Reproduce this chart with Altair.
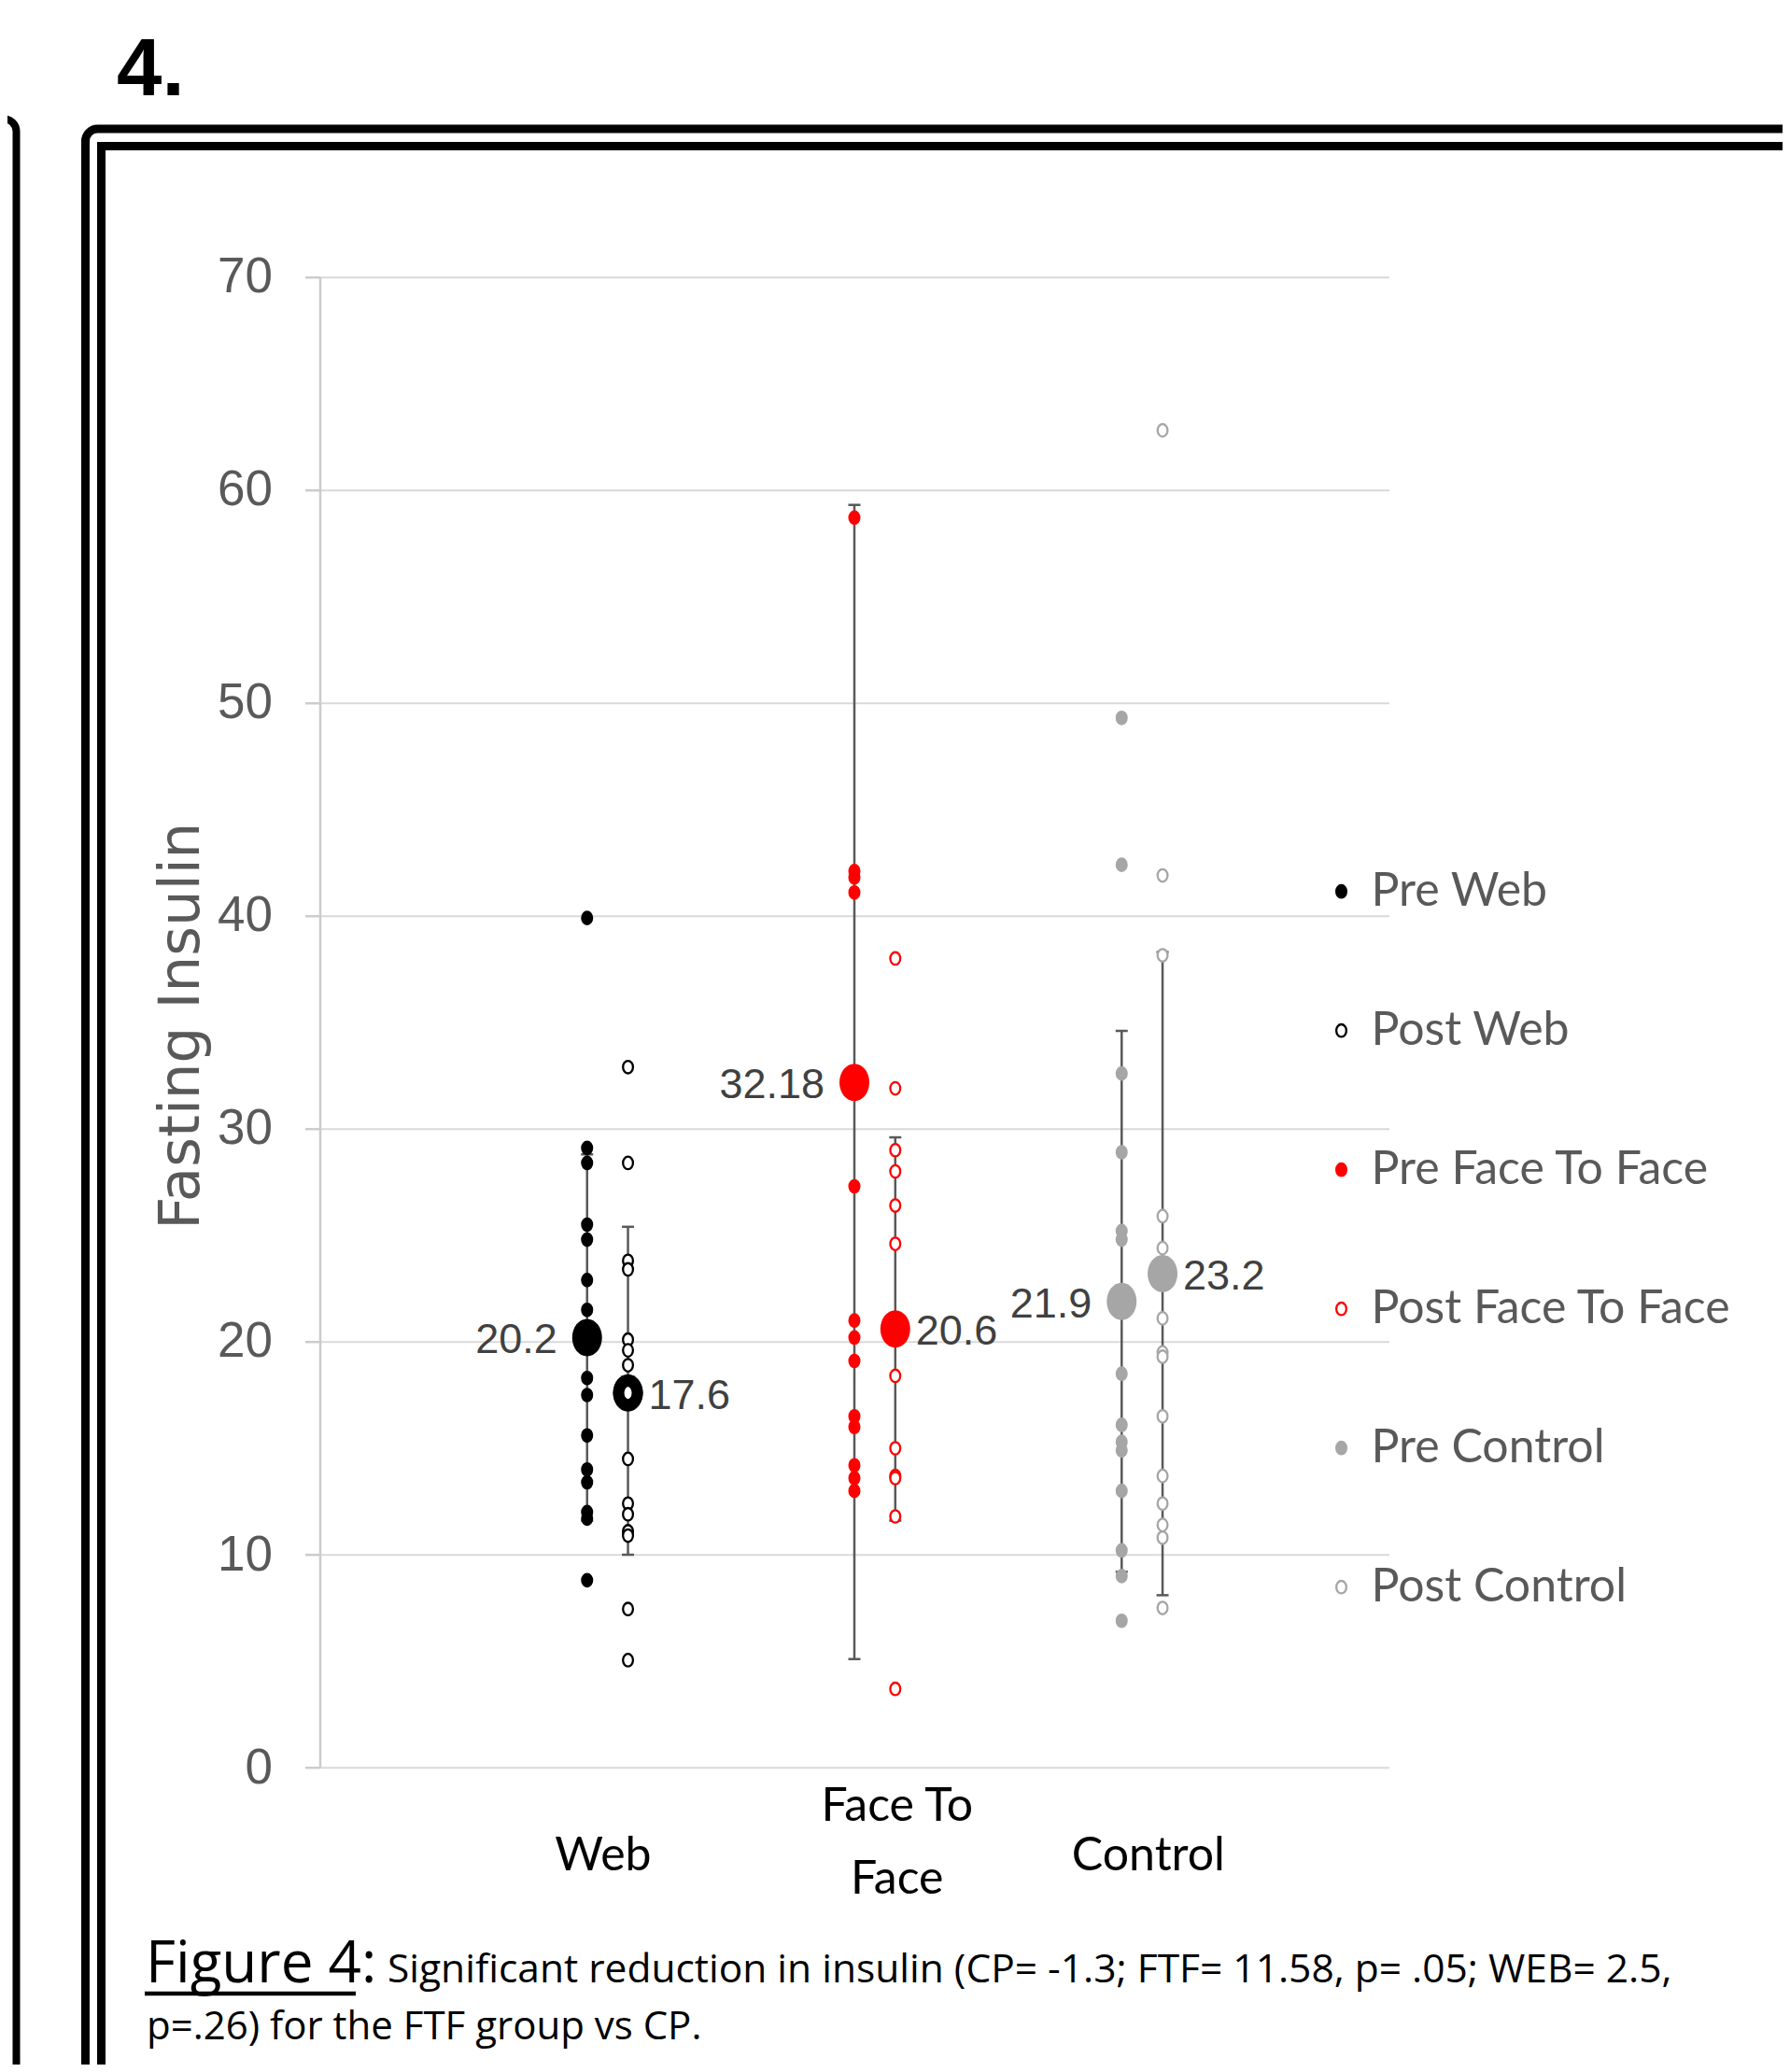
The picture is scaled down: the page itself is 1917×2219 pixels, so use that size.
import altair as alt
import pandas as pd

# ------------------------------------------------------------------ data
groups = ["Web", "Face To Face", "Control"]
category_labels = ["Web", "Face To\nFace", "Control"]
category_label_pos = [1.06, 2.16, 3.10]

series_names = ["Pre Web", "Post Web", "Pre Face To Face", "Post Face To Face",
                "Pre Control", "Post Control"]
series_group = [1, 1, 2, 2, 3, 3]
series_phase = ["Pre", "Post", "Pre", "Post", "Pre", "Post"]

pre_web = [39.9, 29.1, 28.4, 25.5, 24.8, 22.9, 21.5, 18.3, 17.5, 15.6, 14.0, 13.4, 12.0, 11.7, 8.8]
post_web = [32.9, 28.4, 23.8, 23.4, 20.1, 19.6, 18.9, 14.5, 12.4, 11.9, 11.1, 10.9, 7.45, 5.05]
pre_ftf = [58.7, 42.1, 41.8, 41.1, 27.3, 21.0, 20.2, 19.1, 16.5, 16.0, 14.2, 13.6, 13.0]
post_ftf = [38.0, 31.9, 29.0, 28.0, 26.4, 24.6, 18.4, 15.0, 13.7, 13.6, 11.8, 3.7]
pre_ctrl = [49.3, 42.4, 32.6, 28.9, 25.2, 24.8, 18.5, 16.1, 15.3, 14.9, 13.0, 10.2, 9.0, 6.9]
post_ctrl = [62.8, 41.9, 38.15, 25.9, 24.4, 21.1, 19.5, 19.3, 16.5, 13.7, 12.4, 11.4, 10.8, 7.5]
series_values = [pre_web, post_web, pre_ftf, post_ftf, pre_ctrl, post_ctrl]

means = [20.2, 17.6, 32.18, 20.6, 21.9, 23.2]
mean_labels = ["20.2", "17.6", "32.18", "20.6", "21.9", "23.2"]
err_low = [11.6, 10.0, 5.1, 11.6, 9.2, 8.1]
err_high = [28.8, 25.4, 59.3, 29.6, 34.6, 38.3]

y_ticks = [0, 10, 20, 30, 40, 50, 60, 70]

heading_text = "4."
caption_title = "Figure 4:"
caption_line1 = "Significant reduction in insulin (CP= -1.3; FTF= 11.58, p= .05; WEB= 2.5,"
caption_line2 = "p=.26) for the FTF group vs CP."

# ------------------------------------------------------------------ styles
FILLS = ["#000000", "#ffffff", "#ff0000", "#ffffff", "#a6a6a6", "#ffffff"]
STROKES = ["#000000", "#000000", "#ff0000", "#ff0000", "#a6a6a6", "#a6a6a6"]
POST_SHIFT = 0.153
ELLIPSE = "M -0.8 0 A 0.8 1 0 1 0 0.8 0 A 0.8 1 0 1 0 -0.8 0 Z"
ARIAL = "Liberation Sans"
HUMAN = "Lato"
GRAY_TXT = "#595959"

# ------------------------------------------------------------------ tables
rows = []
for name, g, ph, vals in zip(series_names, series_group, series_phase, series_values):
    xpos = g + (POST_SHIFT if ph == "Post" else 0.0)
    for v in vals:
        rows.append({"series": name, "x": xpos, "value": v})
pts = pd.DataFrame(rows)

summ = pd.DataFrame({
    "series": series_names,
    "phase": series_phase,
    "x": [g + (POST_SHIFT if ph == "Post" else 0.0) for g, ph in zip(series_group, series_phase)],
    "mean": means,
    "lo": err_low,
    "hi": err_high,
    "label": mean_labels,
    "mcolor": STROKES,
})
cats = pd.DataFrame({"label": category_labels, "pos": category_label_pos})
one = pd.DataFrame({"k": [0]})

# ------------------------------------------------------------------ scales/axes
xs = alt.Scale(domain=[0, 4], nice=False, zero=False)
ys = alt.Scale(domain=[0, 70], nice=False, zero=True)
X = alt.X("x:Q", scale=xs, axis=None)
yaxis = alt.Axis(
    values=y_ticks, grid=True, gridColor="#d9d9d9", gridWidth=2,
    domain=True, domainColor="#cccccc", domainWidth=2.5,
    ticks=True, tickColor="#cccccc", tickSize=16, tickWidth=2.5,
    labelFont=ARIAL, labelFontSize=53, labelColor=GRAY_TXT, labelPadding=35,
    title="Fasting Insulin", titleFont="DejaVu Sans", titleFontSize=61,
    titleFontWeight="normal", titleColor=GRAY_TXT, titleAngle=270,
    titleX=-130.5, titleY=801.5, titleAlign="center", titleBaseline="alphabetic",
)


def Y(field):
    return alt.Y(field, scale=ys, axis=yaxis)


# ------------------------------------------------------------------ decorations
deco = alt.Chart(one)
frame_outer = deco.mark_rect(fillOpacity=0, stroke="black", strokeWidth=9, cornerRadius=13).encode(
    x=alt.value(-251), x2=alt.value(1700), y=alt.value(-158.7), y2=alt.value(2100))
frame_inner = deco.mark_rect(fillOpacity=0, stroke="black", strokeWidth=9).encode(
    x=alt.value(-234), x2=alt.value(1700), y=alt.value(-140.2), y2=alt.value(2100))
frame_left = deco.mark_rect(fillOpacity=0, stroke="black", strokeWidth=8, cornerRadius=13).encode(
    x=alt.value(-700), x2=alt.value(-325), y=alt.value(-169.2), y2=alt.value(2100))
heading = deco.mark_text(text=heading_text, font=ARIAL, fontWeight="bold", fontSize=87,
                         align="left", baseline="alphabetic", color="black").encode(
    x=alt.value(-217.5), y=alt.value(-194.7))
cap_title = deco.mark_text(text=caption_title, font="Open Sans", fontSize=62, align="left",
                           baseline="alphabetic", color="black").encode(
    x=alt.value(-186.5), y=alt.value(1826.3))
underline = deco.mark_rule(color="black", strokeWidth=4.5).encode(
    x=alt.value(-187.5), x2=alt.value(38.5), y=alt.value(1838.3))
cap1 = deco.mark_text(text=caption_line1, font="Open Sans", fontSize=42.5, align="left",
                      baseline="alphabetic", color="black").encode(
    x=alt.value(72.5), y=alt.value(1826.3))
cap2 = deco.mark_text(text=caption_line2, font="Open Sans", fontSize=42, align="left",
                      baseline="alphabetic", color="black").encode(
    x=alt.value(-185.5), y=alt.value(1887.3))

# ------------------------------------------------------------------ chart layers
base_s = alt.Chart(summ)
err = base_s.mark_rule(color="#595959", strokeWidth=2.5).encode(x=X, y=Y("lo:Q"), y2="hi:Q")
cap_lo = base_s.mark_tick(orient="horizontal", size=13, thickness=2.5, color="#595959", opacity=1).encode(
    x=X, y=Y("lo:Q"))
cap_hi = base_s.mark_tick(orient="horizontal", size=13, thickness=2.5, color="#595959", opacity=1).encode(
    x=X, y=Y("hi:Q"))

leg = alt.Legend(title=None, orient="none", legendX=1069, legendY=633, symbolType=ELLIPSE,
                 symbolSize=180, symbolStrokeWidth=2.3, labelFont=HUMAN, labelFontSize=50,
                 labelColor=GRAY_TXT, labelOffset=7, rowPadding=99, symbolOpacity=1,
                 labelLimit=800, padding=0)
points = alt.Chart(pts).mark_point(shape=ELLIPSE, size=180, strokeWidth=2.3, filled=True, opacity=1).encode(
    x=X, y=Y("value:Q"),
    fill=alt.Fill("series:N", scale=alt.Scale(domain=series_names, range=FILLS), legend=leg),
    stroke=alt.Stroke("series:N", scale=alt.Scale(domain=series_names, range=STROKES), legend=leg),
)

mean_pts = base_s.mark_point(shape=ELLIPSE, size=1600, filled=True, opacity=1, strokeWidth=0).encode(
    x=X, y=Y("mean:Q"), fill=alt.Fill("mcolor:N", scale=None))
ring = base_s.transform_filter(alt.datum.series == "Post Web").mark_point(
    shape=ELLIPSE, size=625, filled=True, fill="white", stroke="black", strokeWidth=12, opacity=1).encode(
    x=X, y=Y("mean:Q"))

lab_l = base_s.transform_filter(alt.datum.phase == "Pre").mark_text(
    align="right", baseline="middle", dx=-32, dy=3, font=ARIAL, fontSize=45, color="#404040").encode(
    x=X, y=Y("mean:Q"), text="label:N")
lab_r = base_s.transform_filter(alt.datum.phase == "Post").mark_text(
    align="left", baseline="middle", dx=22, dy=3, font=ARIAL, fontSize=45, color="#404040").encode(
    x=X, y=Y("mean:Q"), text="label:N")

cat_single = alt.Chart(cats).transform_filter("indexof(datum.label, '\\n') < 0").mark_text(
    align="center", baseline="middle", font=HUMAN, fontSize=50, color="black").encode(
    x=alt.X("pos:Q", scale=xs, axis=None), y=alt.value(1691), text="label:N")
cat_multi = alt.Chart(cats).transform_filter("indexof(datum.label, '\\n') >= 0").mark_text(
    lineBreak="\n", lineHeight=78, align="center", baseline="middle",
    font=HUMAN, fontSize=50, color="black").encode(
    x=alt.X("pos:Q", scale=xs, axis=None), y=alt.value(1638), text="label:N")

chart = alt.layer(
    frame_left, frame_outer, frame_inner, heading,
    err, cap_lo, cap_hi, points, mean_pts, ring, lab_l, lab_r, cat_single, cat_multi,
    cap_title, underline, cap1, cap2,
).properties(
    width=1145, height=1596.4,
    padding={"left": 334.5, "top": 288.7, "right": 421.5, "bottom": 317.9},
    autosize=alt.AutoSizeParams(type="none"),
    background="white",
).configure_view(stroke=None)

chart.save("out.html", embed_options={"renderer": "svg", "actions": False})
